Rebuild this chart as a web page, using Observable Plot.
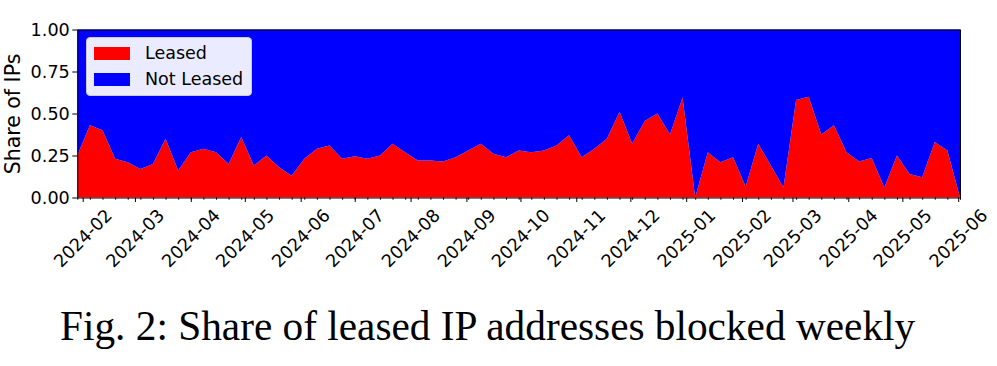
<!DOCTYPE html>
<html><head><meta charset="utf-8">
<script src="https://cdn.jsdelivr.net/npm/d3@7"></script>
<script src="https://cdn.jsdelivr.net/npm/@observablehq/plot@0.6"></script>
<style>
body{margin:0;background:#fff;}
#wrap{position:relative;width:997px;height:366px;overflow:hidden;}
#chart svg text{font-size:17.6px !important;font-family:"DejaVu Sans" !important;fill:#000;}
#chart svg g[aria-label="y-axis label"] text{font-size:20.5px !important;}
#legend{position:absolute;left:86px;top:37px;width:166px;height:59px;border:1px solid #cccccc;border-radius:4px;background:rgba(255,255,255,0.92);font-family:"DejaVu Sans";font-size:17.5px;box-sizing:border-box;color:#000;}
.sw{position:absolute;left:7px;width:36px;height:12.5px;}
.lt{position:absolute;left:58px;line-height:17px;white-space:nowrap;}
#caption{position:absolute;left:60px;top:306px;line-height:1;white-space:nowrap;font-family:"Liberation Serif","Times New Roman",serif;font-size:41.3px;color:#000;}
</style>
</head><body>
<div id="wrap"><div id="chart"></div>
<div id="legend"></div>
<div id="caption"></div>
</div>
<script>
// Weekly dates (Mondays)
const weeks = ("2024-01-29 2024-02-05 2024-02-12 2024-02-19 2024-02-26 2024-03-04 2024-03-11 2024-03-18 2024-03-25 " +
  "2024-04-01 2024-04-08 2024-04-15 2024-04-22 2024-04-29 2024-05-06 2024-05-13 2024-05-20 2024-05-27 " +
  "2024-06-03 2024-06-10 2024-06-17 2024-06-24 2024-07-01 2024-07-08 2024-07-15 2024-07-22 2024-07-29 " +
  "2024-08-05 2024-08-12 2024-08-19 2024-08-26 2024-09-02 2024-09-09 2024-09-16 2024-09-23 2024-09-30 " +
  "2024-10-07 2024-10-14 2024-10-21 2024-10-28 2024-11-04 2024-11-11 2024-11-18 2024-11-25 2024-12-02 " +
  "2024-12-09 2024-12-16 2024-12-23 2024-12-30 2025-01-06 2025-01-13 2025-01-20 2025-01-27 2025-02-03 " +
  "2025-02-10 2025-02-17 2025-02-24 2025-03-03 2025-03-10 2025-03-17 2025-03-24 2025-03-31 2025-04-07 " +
  "2025-04-14 2025-04-21 2025-04-28 2025-05-05 2025-05-12 2025-05-19 2025-05-26 2025-06-02").split(" ");

// Share of blocked IPs that are leased
const leased = [0.25,0.43,0.40,0.23,0.21,0.17,0.20,0.35,0.16,0.27,0.29,0.27,0.20,0.36,0.19,0.25,0.18,0.13,
  0.23,0.29,0.31,0.23,0.245,0.23,0.25,0.32,0.27,0.22,0.22,0.215,0.24,0.28,0.32,0.26,0.24,0.28,0.27,0.28,
  0.31,0.37,0.24,0.29,0.35,0.51,0.32,0.455,0.50,0.375,0.595,0.0,0.27,0.21,0.24,0.065,0.32,0.19,0.06,0.58,
  0.60,0.375,0.43,0.27,0.215,0.235,0.06,0.25,0.14,0.12,0.33,0.28,0.0];

const seriesNames = ["Leased", "Not Leased"];
const seriesColors = ["#ff0000", "#0000ff"];
const yTicks = [0, 0.25, 0.5, 0.75, 1];
const monthTicks = ["2024-02","2024-03","2024-04","2024-05","2024-06","2024-07","2024-08","2024-09",
  "2024-10","2024-11","2024-12","2025-01","2025-02","2025-03","2025-04","2025-05","2025-06"];
const yLabel = "Share of IPs";
const captionText = "Fig. 2: Share of leased IP addresses blocked weekly";

const dates = weeks.map(s => new Date(s + "T00:00:00Z"));
const rows = [];
dates.forEach((d, i) => {
  rows.push({date: d, series: seriesNames[0], share: leased[i]});
  rows.push({date: d, series: seriesNames[1], share: 1 - leased[i]});
});
const monthDates = monthTicks.map(s => new Date(s + "-01T00:00:00Z"));
const monthMap = new Map(monthDates.map((d, i) => [+d, monthTicks[i]]));

const chart = Plot.plot({
  width: 997, height: 290,
  marginLeft: 77.3, marginRight: 37, marginTop: 29.5, marginBottom: 92.5,
  style: {fontFamily: "DejaVu Sans", fontSize: "17.6px", color: "#000", background: "transparent"},
  x: {type: "utc", domain: [dates[0], dates[dates.length - 1]], label: null},
  y: {domain: [0, 1], label: null},
  color: {domain: seriesNames, range: seriesColors},
  marks: [
    Plot.areaY(rows, {x: "date", y: "share", fill: "series", order: seriesNames, curve: "linear"}),
    Plot.frame({stroke: "#000", strokeWidth: 1}),
    Plot.axisY({ticks: yTicks, tickFormat: d3.format(".2f"), tickSize: 5, tickPadding: 3,
      label: yLabel, labelAnchor: "center", labelArrow: "none", labelOffset: 72}),
    Plot.axisX({ticks: dates, tickSize: 2.2, tickFormat: () => "", label: null}),
    Plot.axisX({ticks: monthDates, tickSize: 4.5, tickFormat: () => "", label: null}),
    Plot.axisX({ticks: monthDates, tickSize: 0, tickPadding: 40.5, rotate: -45,
      textAnchor: "middle", lineAnchor: "middle", tickFormat: d => monthMap.get(+d), label: null})
  ]
});
document.getElementById("chart").appendChild(chart);

const legend = document.getElementById("legend");
seriesNames.forEach((name, i) => {
  const sw = document.createElement("div");
  sw.className = "sw";
  sw.style.top = (9.2 + i * 26) + "px";
  sw.style.background = seriesColors[i];
  legend.appendChild(sw);
  const t = document.createElement("div");
  t.className = "lt";
  t.style.top = (7 + i * 26) + "px";
  t.textContent = name;
  legend.appendChild(t);
});
document.getElementById("caption").textContent = captionText;
</script>
</body></html>
